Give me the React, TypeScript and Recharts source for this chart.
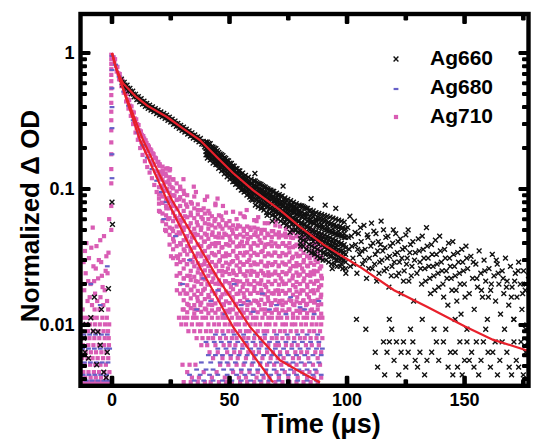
import React from 'react';
import { ScatterChart, Scatter, XAxis, YAxis, ReferenceDot } from 'recharts';

// axis ticks
const xTicks = [0, 25, 50, 75, 100, 125, 150, 175];
const xLabelTicks = [0, 50, 100, 150];
const yMajorTicks = [0.01, 0.1, 1];
const yMinorTicks = [
  0.004, 0.005, 0.006, 0.007, 0.008, 0.009,
  0.02, 0.03, 0.04, 0.05, 0.06, 0.07, 0.08, 0.09,
  0.2, 0.3, 0.4, 0.5, 0.6, 0.7, 0.8, 0.9,
];
const yLabels: Record<string, string> = { '0.01': '0.01', '0.1': '0.1', '1': '1' };

const seriesNames = ['Ag660', 'Ag680', 'Ag710'];

// Ag660 (black crosses)
const ag660Early = [
  [4, 0.642], [4.6, 0.582], [5.2, 0.609], [5.8, 0.553], [6.4, 0.579], [7, 0.526], [7.6, 0.55], [8.2, 0.5],
  [8.8, 0.523], [9.4, 0.475], [10, 0.497], [10.6, 0.455], [11.2, 0.478], [11.8, 0.437], [12.4, 0.461], [13, 0.421],
  [13.6, 0.443], [14.2, 0.405], [14.8, 0.426], [15.4, 0.391], [16, 0.413], [16.6, 0.38], [17.2, 0.402], [17.8, 0.37],
  [18.4, 0.39], [19, 0.359], [19.6, 0.38], [20.2, 0.349], [20.8, 0.369], [21.4, 0.34], [22, 0.359], [22.6, 0.33],
  [23.2, 0.349], [23.8, 0.32], [24.4, 0.337], [25, 0.31], [25.6, 0.326], [26.2, 0.299], [26.8, 0.316], [27.4, 0.289],
  [28, 0.304], [28.6, 0.279], [29.2, 0.294], [29.8, 0.27], [30.4, 0.285], [31, 0.262], [31.6, 0.275], [32.2, 0.253],
  [32.8, 0.267], [33.4, 0.245], [34, 0.259], [34.6, 0.237], [35.2, 0.25], [35.8, 0.23], [36.4, 0.242], [37, 0.222],
  [37.6, 0.235], [38.2, 0.214], [38.8, 0.224], [39.4, 0.204],
  [4.3, 0.61], [5.5, 0.58], [6.7, 0.552], [7.9, 0.525], [9.1, 0.498], [10.3, 0.475], [11.5, 0.457], [12.7, 0.44],
  [13.9, 0.424], [15.1, 0.408], [16.3, 0.396], [17.5, 0.385], [18.7, 0.375], [19.9, 0.364], [21.1, 0.354], [22.3, 0.345],
  [23.5, 0.334], [24.7, 0.323], [25.9, 0.312], [27.1, 0.302], [28.3, 0.291], [29.5, 0.282], [30.7, 0.273], [31.9, 0.264],
  [33.1, 0.256], [34.3, 0.248], [35.5, 0.24], [36.7, 0.232], [37.9, 0.224], [39.1, 0.213],
];

// band 40-100 us, as [x, values at that time]
const ag660Band: [number, number[]][] = [
  [40, [0.222, 0.208, 0.199, 0.188, 0.178]],
  [41.2, [0.216, 0.203, 0.195, 0.183, 0.172, 0.207]],
  [42.4, [0.205, 0.194, 0.186, 0.176, 0.166]],
  [43.6, [0.2, 0.19, 0.179, 0.171, 0.16, 0.184]],
  [44.8, [0.191, 0.181, 0.17, 0.161, 0.152]],
  [46, [0.181, 0.172, 0.163, 0.156, 0.145, 0.168]],
  [47.2, [0.176, 0.165, 0.157, 0.148, 0.139]],
  [48.4, [0.168, 0.158, 0.149, 0.141, 0.133, 0.153]],
  [49.6, [0.161, 0.15, 0.143, 0.135, 0.126]],
  [50.8, [0.154, 0.145, 0.137, 0.128, 0.121, 0.14]],
  [52, [0.147, 0.138, 0.129, 0.122, 0.114]],
  [53.2, [0.141, 0.131, 0.124, 0.117, 0.109, 0.127]],
  [54.4, [0.136, 0.127, 0.119, 0.111, 0.104]],
  [55.6, [0.131, 0.121, 0.114, 0.107, 0.099, 0.117]],
  [56.8, [0.126, 0.117, 0.109, 0.103, 0.096]],
  [58, [0.122, 0.113, 0.106, 0.099, 0.092, 0.109]],
  [59.2, [0.118, 0.11, 0.102, 0.096, 0.089, 0.084]],
  [60.4, [0.115, 0.106, 0.099, 0.093, 0.086, 0.103]],
  [61.6, [0.112, 0.104, 0.097, 0.09, 0.083]],
  [62.8, [0.109, 0.101, 0.094, 0.088, 0.081, 0.097]],
  [64, [0.106, 0.098, 0.091, 0.085, 0.078, 0.073]],
  [65.2, [0.103, 0.095, 0.088, 0.082, 0.076, 0.09]],
  [66.4, [0.1, 0.093, 0.086, 0.08, 0.074]],
  [67.6, [0.098, 0.091, 0.084, 0.078, 0.072, 0.087]],
  [68.8, [0.096, 0.088, 0.082, 0.076, 0.07, 0.065]],
  [70, [0.093, 0.086, 0.079, 0.074, 0.068, 0.082]],
  [71.2, [0.091, 0.084, 0.077, 0.071, 0.066]],
  [72.4, [0.089, 0.081, 0.075, 0.069, 0.064, 0.078]],
  [73.6, [0.086, 0.079, 0.073, 0.067, 0.062, 0.057]],
  [74.8, [0.084, 0.077, 0.071, 0.065, 0.06, 0.074]],
  [76, [0.082, 0.075, 0.069, 0.063, 0.058]],
  [77.2, [0.08, 0.073, 0.067, 0.061, 0.056, 0.07]],
  [78.4, [0.078, 0.071, 0.065, 0.06, 0.055, 0.05]],
  [79.6, [0.076, 0.069, 0.063, 0.058, 0.053, 0.066]],
  [80.8, [0.075, 0.068, 0.062, 0.056, 0.051, 0.046]],
  [82, [0.073, 0.066, 0.06, 0.055, 0.05, 0.063]],
  [83.2, [0.072, 0.065, 0.058, 0.053, 0.048, 0.044]],
  [84.4, [0.07, 0.063, 0.057, 0.052, 0.047, 0.06]],
  [85.6, [0.069, 0.062, 0.056, 0.05, 0.045, 0.041]],
  [86.8, [0.067, 0.06, 0.054, 0.049, 0.044, 0.058]],
  [88, [0.066, 0.059, 0.053, 0.048, 0.043, 0.039]],
  [89.2, [0.065, 0.058, 0.052, 0.047, 0.042, 0.055]],
  [90.4, [0.064, 0.057, 0.051, 0.046, 0.041, 0.037, 0.034]],
  [91.6, [0.063, 0.056, 0.05, 0.045, 0.04, 0.053, 0.036]],
  [92.8, [0.062, 0.055, 0.049, 0.044, 0.039, 0.035, 0.032]],
  [94, [0.061, 0.054, 0.048, 0.043, 0.038, 0.051, 0.034]],
  [95.2, [0.06, 0.053, 0.047, 0.042, 0.037, 0.033, 0.03]],
  [96.4, [0.059, 0.052, 0.046, 0.041, 0.036, 0.049, 0.032]],
  [97.6, [0.058, 0.051, 0.045, 0.04, 0.035, 0.031, 0.028]],
  [98.8, [0.057, 0.05, 0.044, 0.039, 0.034, 0.047, 0.03]],
  // in-between times
  [40.6, [0.221, 0.206, 0.19, 0.178, 0.169]],
  [41.8, [0.215, 0.2, 0.184, 0.173, 0.163]],
  [43, [0.203, 0.189, 0.175, 0.164, 0.155]],
  [44.2, [0.198, 0.184, 0.17, 0.159, 0.151]],
  [45.4, [0.186, 0.173, 0.16, 0.15, 0.142]],
  [46.6, [0.179, 0.166, 0.153, 0.144, 0.136]],
  [47.8, [0.17, 0.158, 0.146, 0.137, 0.129]],
  [49, [0.162, 0.15, 0.139, 0.13, 0.123]],
  [50.2, [0.155, 0.144, 0.133, 0.125, 0.118]],
  [51.4, [0.148, 0.138, 0.127, 0.119, 0.113]],
  [52.6, [0.141, 0.131, 0.121, 0.114, 0.108]],
  [53.8, [0.136, 0.126, 0.116, 0.109, 0.103]],
  [55, [0.129, 0.12, 0.111, 0.104, 0.098]],
  [56.2, [0.124, 0.116, 0.107, 0.1, 0.095]],
  [57.4, [0.119, 0.11, 0.102, 0.096, 0.09]],
  [58.6, [0.114, 0.106, 0.098, 0.092, 0.087]],
  [59.8, [0.11, 0.102, 0.094, 0.088, 0.083]],
  [61, [0.114, 0.103, 0.092, 0.084, 0.076]],
  [62.2, [0.11, 0.099, 0.089, 0.081, 0.074]],
  [63.4, [0.108, 0.097, 0.087, 0.079, 0.072]],
  [64.6, [0.104, 0.094, 0.084, 0.077, 0.07]],
  [65.8, [0.101, 0.091, 0.081, 0.074, 0.067]],
  [67, [0.098, 0.089, 0.08, 0.072, 0.066]],
  [68.2, [0.096, 0.086, 0.078, 0.07, 0.064]],
  [69.4, [0.092, 0.083, 0.075, 0.068, 0.062]],
  [70.6, [0.09, 0.081, 0.073, 0.066, 0.06]],
  [71.8, [0.088, 0.079, 0.071, 0.064, 0.058]],
  [73, [0.084, 0.076, 0.068, 0.062, 0.056]],
  [74.2, [0.082, 0.073, 0.066, 0.06, 0.054]],
  [75.4, [0.079, 0.071, 0.064, 0.058, 0.053]],
  [76.6, [0.076, 0.068, 0.061, 0.055, 0.05]],
  [77.8, [0.074, 0.067, 0.06, 0.055, 0.05]],
  [79, [0.072, 0.065, 0.058, 0.053, 0.048]],
  [80.2, [0.075, 0.065, 0.056, 0.049, 0.043, 0.038]],
  [81.4, [0.074, 0.064, 0.055, 0.048, 0.042, 0.038]],
  [82.6, [0.072, 0.062, 0.053, 0.047, 0.041, 0.036]],
  [83.8, [0.069, 0.059, 0.051, 0.045, 0.039, 0.035]],
  [85, [0.066, 0.057, 0.049, 0.043, 0.038, 0.034]],
  [86.2, [0.065, 0.056, 0.048, 0.043, 0.037, 0.033]],
  [87.4, [0.062, 0.054, 0.046, 0.041, 0.036, 0.032]],
  [88.6, [0.061, 0.053, 0.045, 0.04, 0.035, 0.031]],
  [89.8, [0.06, 0.052, 0.044, 0.039, 0.034, 0.03]],
  [91, [0.059, 0.05, 0.043, 0.038, 0.033, 0.03]],
  [92.2, [0.057, 0.049, 0.042, 0.037, 0.033, 0.029]],
  [93.4, [0.056, 0.048, 0.041, 0.037, 0.032, 0.028]],
  [94.6, [0.055, 0.047, 0.04, 0.036, 0.031, 0.028]],
  [95.8, [0.053, 0.046, 0.039, 0.035, 0.03, 0.027]],
  [97, [0.053, 0.046, 0.039, 0.035, 0.03, 0.027]],
  [98.2, [0.052, 0.045, 0.038, 0.034, 0.03, 0.026]],
  [99.4, [0.051, 0.044, 0.037, 0.033, 0.029, 0.026]],
];
const ag660Stray = [
  [60.8, 0.13], [72.8, 0.105], [84.7, 0.085], [90.7, 0.076], [95.2, 0.072], [68.2, 0.058], [80.2, 0.04],
  [88.3, 0.031], [93.7, 0.026], [75.8, 0.048], [66, 0.064], [99.5, 0.024], [86, 0.034],
];

const ag660Tail = [
  [100.3, 0.052], [100.9, 0.036], [101.4, 0.027], [101.8, 0.045], [102.5, 0.031], [103.1, 0.058], [103.6, 0.039], [104.2, 0.024],
  [104.8, 0.047], [105.3, 0.033], [106, 0.041], [106.6, 0.028], [107.2, 0.054], [107.7, 0.036], [108.3, 0.022], [108.9, 0.044],
  [109.5, 0.031], [110.1, 0.038], [110.7, 0.026], [111.4, 0.049], [112, 0.033], [112.6, 0.021], [113.3, 0.041], [113.9, 0.029],
  [114.5, 0.058], [115.2, 0.035], [115.8, 0.025], [116.5, 0.044], [117.1, 0.031], [117.8, 0.019], [118.4, 0.038], [119.1, 0.027],
  [119.7, 0.05], [120.4, 0.033], [121, 0.023], [121.7, 0.041], [122.3, 0.029], [123, 0.017], [123.6, 0.036], [124.3, 0.025],
  [125, 0.046], [125.6, 0.031], [126.3, 0.021], [127, 0.039], [127.6, 0.027], [128.3, 0.015], [129, 0.034], [129.7, 0.024],
  [130.3, 0.043], [131, 0.029], [131.7, 0.02], [132.4, 0.036], [133.1, 0.026], [133.8, 0.052], [134.5, 0.031], [135.2, 0.022],
  [135.9, 0.039], [136.6, 0.027], [137.3, 0.018], [138, 0.033], [138.7, 0.024], [139.4, 0.045], [140.1, 0.029], [140.8, 0.02],
  [141.5, 0.036], [142.2, 0.025], [142.9, 0.014], [143.6, 0.031], [144.3, 0.022], [145, 0.041], [145.7, 0.027], [146.4, 0.018],
  [147.1, 0.034], [147.8, 0.024], [148.5, 0.012], [149.2, 0.029], [149.9, 0.02], [150.6, 0.038], [151.3, 0.026], [152, 0.017],
  [152.7, 0.032], [153.4, 0.022], [154.1, 0.013], [154.8, 0.028], [155.5, 0.019], [156.2, 0.035], [156.9, 0.024], [157.6, 0.016],
  [158.3, 0.03], [159, 0.021], [159.7, 0.011], [160.4, 0.026], [161.1, 0.018], [161.8, 0.033], [162.5, 0.023], [163.2, 0.015],
  [163.9, 0.028], [164.6, 0.02], [165.3, 0.012], [166, 0.025], [166.7, 0.017], [167.4, 0.031], [168.1, 0.021], [168.8, 0.014],
  [169.5, 0.027], [170.2, 0.019], [170.9, 0.011], [171.6, 0.024], [172.3, 0.016], [173, 0.029], [173.7, 0.02], [174.4, 0.013],
  [175.1, 0.025], [175.8, 0.018], [176.5, 0.01], [177.2, 0.023], [177.9, 0.015], [178.6, 0.027], [179.3, 0.019],
  [100.6, 0.044], [101.2, 0.063], [102, 0.038], [102.8, 0.028], [103.4, 0.048], [104.5, 0.036], [105.7, 0.052], [106.3, 0.035],
  [107.5, 0.03], [108.6, 0.046], [109.2, 0.026], [110.4, 0.056], [111, 0.04], [111.7, 0.028], [112.3, 0.047], [113, 0.035],
  [113.6, 0.024], [114.2, 0.039], [114.8, 0.03], [115.5, 0.05], [116.1, 0.037], [116.8, 0.026], [117.4, 0.045], [118.1, 0.032],
  [118.8, 0.023], [119.4, 0.04], [120.1, 0.029], [120.7, 0.047], [121.4, 0.034], [122, 0.024], [122.7, 0.043], [123.3, 0.031],
  [124, 0.021], [124.6, 0.037], [125.3, 0.028], [126, 0.05], [126.7, 0.034], [127.3, 0.023], [128, 0.041], [128.7, 0.03],
  [130.7, 0.035], [131.3, 0.026], [132, 0.045], [132.7, 0.031], [133.4, 0.021], [134.1, 0.038], [134.8, 0.027], [135.5, 0.017],
  [136.2, 0.033], [136.9, 0.023], [137.6, 0.042], [138.3, 0.028], [139, 0.019], [139.7, 0.035], [140.4, 0.025], [141.1, 0.016],
  [141.8, 0.031], [142.5, 0.022], [143.2, 0.04], [143.9, 0.027], [144.6, 0.018], [145.3, 0.033], [146, 0.023], [146.7, 0.015],
  [147.4, 0.029], [148.1, 0.02], [148.8, 0.036], [149.5, 0.025], [150.2, 0.016], [150.9, 0.031], [155.2, 0.022], [158.6, 0.025],
  [161.4, 0.02], [164.3, 0.024], [167.8, 0.019], [171.3, 0.021], [174.7, 0.017], [178.1, 0.022], [153.7, 0.029], [157.2, 0.018],
  [160.1, 0.016], [163.5, 0.03], [166.4, 0.022], [169.9, 0.016], [172.8, 0.025], [176.2, 0.02], [179, 0.013],
];

const ag660PreTrigger = [
  [-11, 0.0101], [-8, 0.009], [-5, 0.0071], [-2, 0.0063], [-10, 0.0057], [-6.5, 0.0051], [-3.5, 0.0045], [-12, 0.008],
  [-9, 0.0113], [-4.5, 0.013], [-1.5, 0.0185], [-7.5, 0.016], [-2.5, 0.0041], [-11.5, 0.0063], [-6, 0.0089], [0, 0.08], [0.2, 0.055],
];

// quantised low-level rows: [level, x positions]
const ag660Rows: [number, number[]][] = [
  [0.011, [104, 118, 132, 146, 171]],
  [0.0093, [108, 119, 127, 137, 142, 151, 159, 167, 176]],
  [0.0075, [115.5, 118, 121, 124, 128, 138, 141, 148, 151, 155, 158, 163, 166, 171, 174, 177]],
  [0.0063, [112, 117, 123, 126, 131, 136, 144, 146, 153, 160, 162, 168, 176, 179]],
  [0.0055, [120, 129, 134, 139, 150, 152, 157, 165, 172, 178]],
  [0.0049, [113, 125, 130, 143, 147, 154, 161, 169, 173]],
  [0.0043, [116, 122, 133, 145, 149, 156, 164, 170, 175]],
];

// Ag680 (blue)
const ag680Decay = [
  [0, 0.95], [0, 0.75], [0, 0.55], [0, 0.4], [0, 0.28], [0, 0.18], [0, 0.12], [1.5, 0.82], [3, 0.67], [5, 0.52],
  [7, 0.41], [9, 0.32], [11, 0.26], [13, 0.21], [15, 0.17], [17, 0.14], [19, 0.115], [21, 0.095], [23, 0.08],
];
const ag680Cloud = [
  [22, 0.06], [27, 0.045], [33, 0.03], [39, 0.022], [45, 0.018], [52, 0.02], [58, 0.015], [64, 0.017], [70, 0.014],
  [76, 0.016], [82, 0.013], [88, 0.015], [36, 0.013], [48, 0.012], [60, 0.0125], [74, 0.012], [86, 0.012], [30, 0.02],
  [42, 0.015], [55, 0.014], [67, 0.013], [80, 0.0135], [-9, 0.02], [-5, 0.014], [-2, 0.027],
];
const ag680Rows: [number, number[]][] = [
  [0.0085, [-12, -9.5, -7, -4.5, -2, 44, 47.5, 52, 56, 61, 65, 70, 74.5, 79, 83, 87.5]],
  [0.0075, [40, 43.5, 46.5, 50, 53.5, 57, 60, 63.5, 67, 70.5, 74, 77.5, 81, 84.5, 88]],
  [0.0067, [-12.5, -10, -7.5, -5, -2.5, -1, 45, 48.5, 52, 55.5, 59, 62.5, 66, 69.5, 73, 76.5, 80, 83.5, 87, 89.5]],
  [0.006, [41, 44, 47, 50.5, 54, 57.5, 61, 64.5, 68, 71.5, 75, 78.5, 82, 85.5, 89]],
  [0.0053, [-11.7, -9.2, -6.7, -4.2, -1.7, 38, 42, 46, 49, 52.5, 56.5, 60, 63, 67, 70, 74, 77, 80.5, 84, 88]],
  [0.0047, [36, 40, 43, 47.5, 51, 55, 58.5, 62, 65.5, 69, 72.5, 76, 79.5, 83, 86.5]],
  [0.0043, [-12.3, -9.8, -7.3, -4.8, -2.3, 33, 37.5, 41.5, 45, 49, 53, 56.5, 60, 64, 67.5, 71, 75, 78.5, 82, 85.5, 89]],
  [0.0039, [-11, -8.5, -6, -3.5, -1.5, 35, 39, 43, 47, 51, 55, 59, 63, 67, 71, 75, 79, 83, 87]],
];

// Ag710 (pink squares)
const ag710Rise = [
  [-0.3, 0.97], [-0.3, 0.9], [-0.3, 0.83], [-0.3, 0.76], [-0.3, 0.69], [-0.3, 0.62], [-0.3, 0.55], [-0.3, 0.49],
  [-0.3, 0.43], [-0.3, 0.37], [-0.3, 0.32], [-0.3, 0.27], [-0.3, 0.22], [-0.3, 0.18], [-0.3, 0.14], [-0.3, 0.11],
  [-0.3, 0.075], [-0.3, 0.05],
];
const ag710Decay = [
  [0.7, 0.93], [1, 0.84], [1.3, 0.9], [1.7, 0.8], [2, 0.73], [2.3, 0.79], [2.7, 0.71], [3, 0.64], [3.3, 0.7],
  [3.7, 0.64], [4, 0.57], [4.3, 0.63], [4.7, 0.58], [5, 0.51], [5.3, 0.57], [5.7, 0.51], [6, 0.44], [6.3, 0.5],
  [6.7, 0.455], [7, 0.39], [7.3, 0.45], [7.7, 0.41], [8, 0.345], [8.3, 0.405], [8.7, 0.37], [9, 0.3], [9.3, 0.365],
  [9.7, 0.33], [10, 0.26], [10.3, 0.325], [10.7, 0.3], [11, 0.23], [11.3, 0.295], [11.7, 0.27], [12, 0.2], [12.3, 0.265],
  [12.7, 0.25], [13, 0.178], [13.3, 0.245], [13.7, 0.235], [14, 0.16], [14.3, 0.228], [14.7, 0.218], [15, 0.145],
  [15.3, 0.21], [15.7, 0.205], [16, 0.132], [16.3, 0.196], [16.7, 0.192], [17, 0.12], [17.3, 0.183], [17.7, 0.18],
  [18, 0.107], [18.3, 0.17], [18.7, 0.168], [19, 0.095], [19.3, 0.158], [19.7, 0.158], [20, 0.085], [20.3, 0.148],
  [9.5, 0.31], [11.5, 0.245], [13.5, 0.205], [15.5, 0.175], [17.5, 0.15], [19.5, 0.125], [7.5, 0.4], [5.5, 0.53],
  [3.5, 0.66], [10.5, 0.28], [12.5, 0.22], [14.5, 0.19], [16.5, 0.16], [18.5, 0.135],
];
const ag710Scatter = [
  [20.4, 0.068], [21.3, 0.079], [20.6, 0.092], [21.8, 0.106], [20.9, 0.12], [21.6, 0.136], [20.3, 0.152],
  [22.6, 0.05], [23.8, 0.06], [23.1, 0.072], [24.3, 0.086], [23.4, 0.1], [24.1, 0.115], [22.8, 0.13], [23.6, 0.142],
  [25.1, 0.032], [26.3, 0.041], [25.6, 0.051], [26.8, 0.063], [25.9, 0.075], [26.6, 0.089], [25.3, 0.103], [26.1, 0.118],
  [27.6, 0.018], [28.8, 0.024], [28.1, 0.031], [29.3, 0.039], [28.4, 0.048], [29.1, 0.059], [27.8, 0.071], [28.6, 0.084], [29, 0.1],
  [30.1, 0.013], [31.3, 0.017], [30.6, 0.022], [31.8, 0.028], [30.9, 0.035], [31.6, 0.043], [30.3, 0.052], [31.1, 0.063], [31.5, 0.077], [30.7, 0.092],
  [32.6, 0.014], [33.8, 0.018], [33.1, 0.023], [34.3, 0.029], [33.4, 0.036], [34.1, 0.044], [32.8, 0.053], [33.6, 0.064], [34, 0.078],
  [35.1, 0.013], [36.3, 0.016], [35.6, 0.021], [36.8, 0.026], [35.9, 0.032], [36.6, 0.039], [35.3, 0.047], [36.1, 0.057], [36.5, 0.07], [35.7, 0.095],
  [37.6, 0.014], [38.8, 0.018], [38.1, 0.022], [39.3, 0.028], [38.4, 0.034], [39.1, 0.041], [37.8, 0.05], [38.6, 0.06], [39, 0.072],
  [40.1, 0.013], [41.3, 0.016], [40.6, 0.02], [41.8, 0.025], [40.9, 0.031], [41.6, 0.038], [40.3, 0.046], [41.1, 0.055], [41.5, 0.066],
  [42.6, 0.014], [43.8, 0.017], [43.1, 0.022], [44.3, 0.027], [43.4, 0.033], [44.1, 0.04], [42.8, 0.048], [43.6, 0.058], [44, 0.078],
  [45.1, 0.013], [46.3, 0.016], [45.6, 0.02], [46.8, 0.025], [45.9, 0.03], [46.6, 0.037], [45.3, 0.044], [46.1, 0.053], [46.5, 0.063],
  [47.6, 0.014], [48.8, 0.017], [48.1, 0.021], [49.3, 0.026], [48.4, 0.032], [49.1, 0.039], [47.8, 0.047], [48.6, 0.056],
  [50.1, 0.013], [51.3, 0.016], [50.6, 0.019], [51.8, 0.024], [50.9, 0.029], [51.6, 0.035], [50.3, 0.042], [51.1, 0.05], [51.5, 0.068],
  [52.6, 0.014], [53.8, 0.017], [53.1, 0.021], [54.3, 0.026], [53.4, 0.031], [54.1, 0.038], [52.8, 0.045], [53.6, 0.054],
  [55.1, 0.013], [56.3, 0.016], [55.6, 0.019], [56.8, 0.023], [55.9, 0.028], [56.6, 0.034], [55.3, 0.041], [56.1, 0.049], [56.5, 0.062],
  [57.6, 0.014], [58.8, 0.017], [58.1, 0.02], [59.3, 0.025], [58.4, 0.03], [59.1, 0.036], [57.8, 0.043], [58.6, 0.052],
  [60.1, 0.013], [61.3, 0.015], [60.6, 0.019], [61.8, 0.023], [60.9, 0.028], [61.6, 0.033], [60.3, 0.04], [61.1, 0.048], [61.5, 0.058],
  [62.6, 0.014], [63.8, 0.017], [63.1, 0.02], [64.3, 0.024], [63.4, 0.029], [64.1, 0.035], [62.8, 0.042], [63.6, 0.05],
  [65.1, 0.013], [66.3, 0.016], [65.6, 0.019], [66.8, 0.023], [65.9, 0.027], [66.6, 0.033], [65.3, 0.039], [66.1, 0.047], [66.5, 0.056],
  [67.6, 0.014], [68.8, 0.017], [68.1, 0.02], [69.3, 0.024], [68.4, 0.028], [69.1, 0.034], [67.8, 0.041], [68.6, 0.049],
  [70.1, 0.013], [71.3, 0.015], [70.6, 0.018], [71.8, 0.022], [70.9, 0.027], [71.6, 0.032], [70.3, 0.038], [71.1, 0.045], [71.5, 0.053],
  [72.6, 0.014], [73.8, 0.017], [73.1, 0.02], [74.3, 0.024], [73.4, 0.028], [74.1, 0.033], [72.8, 0.04], [73.6, 0.047],
  [75.1, 0.013], [76.3, 0.015], [75.6, 0.018], [76.8, 0.022], [75.9, 0.026], [76.6, 0.031], [75.3, 0.037], [76.1, 0.044], [76.5, 0.05],
  [77.6, 0.014], [78.8, 0.016], [78.1, 0.019], [79.3, 0.023], [78.4, 0.027], [79.1, 0.032], [77.8, 0.038], [78.6, 0.045],
  [80.1, 0.013], [81.3, 0.015], [80.6, 0.018], [81.8, 0.022], [80.9, 0.026], [81.6, 0.03], [80.3, 0.036], [81.1, 0.042], [81.5, 0.047],
  [82.6, 0.014], [83.8, 0.016], [83.1, 0.019], [84.3, 0.023], [83.4, 0.027], [84.1, 0.031], [82.8, 0.037], [83.6, 0.043],
  [85.1, 0.013], [86.3, 0.015], [85.6, 0.018], [86.8, 0.021], [85.9, 0.025], [86.6, 0.03], [85.3, 0.035], [86.1, 0.041], [86.5, 0.045],
  [87.6, 0.014], [88.8, 0.016], [88.1, 0.019], [89.3, 0.022], [88.4, 0.026], [89.1, 0.031], [87.8, 0.036], [88.6, 0.042],
  [40.5, 0.088], [47.2, 0.075], [54.6, 0.066], [62.2, 0.062], [69.7, 0.058], [77.2, 0.055], [84.8, 0.05], [44.9, 0.085],
  [57.3, 0.07], [30.4, 0.118], [34.8, 0.104], [24.7, 0.14],
];
// dense part of the cloud, as [x, values at that time]
const ag710Cloud: [number, number[]][] = [
  [20, [0.069, 0.078, 0.091, 0.103, 0.119, 0.134, 0.151]],
  [21.5, [0.058, 0.066, 0.079, 0.088, 0.101, 0.117, 0.129, 0.146]],
  [23, [0.049, 0.055, 0.064, 0.075, 0.084, 0.097, 0.112, 0.125, 0.141]],
  [24.5, [0.039, 0.046, 0.052, 0.061, 0.072, 0.081, 0.094, 0.108, 0.122, 0.137]],
  [26, [0.031, 0.036, 0.043, 0.049, 0.058, 0.067, 0.078, 0.09, 0.101, 0.117]],
  [27.5, [0.023, 0.028, 0.032, 0.038, 0.046, 0.053, 0.061, 0.072, 0.083, 0.096, 0.11]],
  [29, [0.017, 0.02, 0.024, 0.029, 0.033, 0.04, 0.047, 0.055, 0.064, 0.075, 0.087, 0.104]],
  [30.5, [0.013, 0.0152, 0.018, 0.022, 0.026, 0.03, 0.036, 0.042, 0.05, 0.058, 0.069, 0.082, 0.097]],
  [32, [0.0124, 0.0143, 0.017, 0.0196, 0.023, 0.028, 0.033, 0.038, 0.045, 0.053, 0.062, 0.074, 0.09]],
  [33.5, [0.0133, 0.0157, 0.0182, 0.0214, 0.025, 0.03, 0.035, 0.041, 0.048, 0.056, 0.067, 0.08]],
  [35, [0.0121, 0.014, 0.0167, 0.0192, 0.0226, 0.027, 0.0315, 0.037, 0.044, 0.051, 0.061, 0.072, 0.088]],
  [36.5, [0.0129, 0.015, 0.0178, 0.0208, 0.0243, 0.0284, 0.0335, 0.039, 0.046, 0.054, 0.065, 0.077]],
  [38, [0.0125, 0.0146, 0.0169, 0.02, 0.0236, 0.0275, 0.032, 0.038, 0.044, 0.052, 0.062, 0.07]],
  [39.5, [0.0132, 0.0155, 0.0185, 0.0216, 0.0252, 0.0296, 0.035, 0.041, 0.047, 0.056, 0.066, 0.083]],
  [41, [0.0122, 0.0141, 0.0166, 0.0198, 0.023, 0.0271, 0.0318, 0.0372, 0.043, 0.051, 0.06, 0.069]],
  [42.5, [0.0128, 0.0152, 0.0177, 0.0207, 0.0244, 0.029, 0.0338, 0.0395, 0.046, 0.054, 0.063]],
  [44, [0.0123, 0.0144, 0.0171, 0.0201, 0.0235, 0.0277, 0.0325, 0.038, 0.0445, 0.052, 0.06, 0.076]],
  [45.5, [0.0131, 0.0153, 0.0181, 0.0213, 0.0249, 0.0292, 0.0344, 0.04, 0.047, 0.055, 0.064]],
  [47, [0.0121, 0.0142, 0.0168, 0.0196, 0.0232, 0.0272, 0.032, 0.0374, 0.044, 0.051, 0.059]],
  [48.5, [0.0127, 0.0149, 0.0176, 0.0209, 0.0245, 0.0287, 0.0336, 0.0393, 0.046, 0.054, 0.067]],
  [50, [0.0124, 0.0145, 0.0172, 0.0203, 0.0237, 0.0279, 0.0327, 0.0383, 0.0448, 0.052, 0.058]],
  [51.5, [0.013, 0.0154, 0.0183, 0.0214, 0.0251, 0.0295, 0.0347, 0.0405, 0.047, 0.054]],
  [53, [0.0121, 0.0143, 0.0169, 0.0198, 0.0233, 0.0274, 0.0322, 0.0377, 0.044, 0.051, 0.06]],
  [54.5, [0.0128, 0.015, 0.0178, 0.0209, 0.0246, 0.0289, 0.0338, 0.0396, 0.0462, 0.053]],
  [56, [0.0123, 0.0145, 0.0171, 0.02, 0.0236, 0.0277, 0.0325, 0.038, 0.0446, 0.051, 0.063]],
  [57.5, [0.0129, 0.0152, 0.018, 0.0212, 0.0248, 0.0291, 0.0342, 0.04, 0.0466, 0.053]],
  [59, [0.0122, 0.0144, 0.017, 0.0199, 0.0234, 0.0275, 0.0323, 0.0378, 0.0442, 0.05]],
  [60.5, [0.0128, 0.0151, 0.0178, 0.021, 0.0246, 0.0288, 0.0339, 0.0396, 0.046, 0.052, 0.059]],
  [62, [0.0124, 0.0146, 0.0172, 0.0202, 0.0238, 0.0279, 0.0327, 0.0384, 0.0448, 0.051]],
  [63.5, [0.013, 0.0153, 0.0181, 0.0213, 0.025, 0.0293, 0.0344, 0.0402, 0.047]],
  [65, [0.0121, 0.0143, 0.0168, 0.0197, 0.0232, 0.0273, 0.032, 0.0375, 0.0438, 0.05, 0.056]],
  [66.5, [0.0127, 0.015, 0.0177, 0.0208, 0.0244, 0.0286, 0.0336, 0.0393, 0.0458]],
  [68, [0.0123, 0.0145, 0.0171, 0.02, 0.0235, 0.0276, 0.0324, 0.038, 0.0444, 0.049]],
  [69.5, [0.0129, 0.0152, 0.0179, 0.0211, 0.0247, 0.029, 0.034, 0.0398, 0.0463, 0.054]],
  [71, [0.0122, 0.0144, 0.0169, 0.0198, 0.0233, 0.0274, 0.0321, 0.0377, 0.044, 0.048]],
  [72.5, [0.0128, 0.0151, 0.0178, 0.0209, 0.0245, 0.0288, 0.0338, 0.0395, 0.0455]],
  [74, [0.0124, 0.0146, 0.0172, 0.0201, 0.0236, 0.0278, 0.0326, 0.0382, 0.0443, 0.051]],
  [75.5, [0.013, 0.0153, 0.018, 0.0212, 0.0249, 0.0292, 0.0342, 0.04, 0.046]],
  [77, [0.0121, 0.0142, 0.0167, 0.0196, 0.0231, 0.0271, 0.0318, 0.0373, 0.0436, 0.048]],
  [78.5, [0.0127, 0.0149, 0.0176, 0.0207, 0.0243, 0.0285, 0.0334, 0.039, 0.045]],
  [80, [0.0123, 0.0145, 0.017, 0.02, 0.0235, 0.0276, 0.0323, 0.0378, 0.0438, 0.049]],
  [81.5, [0.0129, 0.0152, 0.0179, 0.021, 0.0247, 0.0289, 0.0339, 0.0396, 0.045]],
  [83, [0.0122, 0.0143, 0.0168, 0.0198, 0.0233, 0.0273, 0.032, 0.0375, 0.0432, 0.047]],
  [84.5, [0.0128, 0.015, 0.0177, 0.0208, 0.0244, 0.0286, 0.0335, 0.0392, 0.0445]],
  [86, [0.0124, 0.0146, 0.0171, 0.0201, 0.0236, 0.0277, 0.0324, 0.038, 0.0436, 0.046]],
  [87.5, [0.013, 0.0153, 0.018, 0.0211, 0.0248, 0.029, 0.034, 0.0397, 0.0448]],
  [89, [0.0121, 0.0142, 0.0167, 0.0196, 0.023, 0.027, 0.0317, 0.0371, 0.043, 0.046]],
];
const ag710PreTrigger = [
  [-12.5, 0.013], [-11.8, 0.018], [-11.2, 0.024], [-10.4, 0.015], [-9.8, 0.031], [-9.1, 0.02], [-8.5, 0.014], [-7.9, 0.027],
  [-7.2, 0.017], [-6.6, 0.038], [-5.9, 0.022], [-5.3, 0.013], [-4.6, 0.029], [-4, 0.019], [-3.4, 0.045], [-2.7, 0.025],
  [-2.1, 0.015], [-1.5, 0.034], [-12.1, 0.029], [-10.9, 0.04], [-9.5, 0.016], [-8.2, 0.052], [-7.6, 0.021], [-6.3, 0.015],
  [-5.6, 0.03], [-4.3, 0.023], [-3.1, 0.018], [-1.9, 0.024], [-1.2, 0.06], [-11.5, 0.035], [-8.8, 0.037], [-6.9, 0.026],
  [-5, 0.042], [-3.7, 0.014], [-2.4, 0.032], [-10.1, 0.021], [-7.4, 0.013], [-12.8, 0.02], [-4.9, 0.016], [-1.6, 0.013],
];
const ag710Rows: [number, number[]][] = [
  [0.0113, [-12.3, -10.6, -8.2, -6.5, -4.1, -2.2, 28.5, 30.5, 32, 34.5, 36, 38.5, 40, 42.5, 45, 47, 48.5, 51, 53.5, 55, 57.5, 60, 61.5, 64, 66.5, 68, 70.5, 72, 74.5, 77, 79, 81.5, 83, 85.5, 88, 89.5]],
  [0.0101, [-11.5, -9.4, -7.3, -5.2, -3, -1.2, 29.5, 31.5, 34, 36.5, 38, 41, 43.5, 45.5, 48, 50, 52.5, 54, 56.5, 59, 61, 63, 65.5, 67, 69.5, 72.5, 74, 76.5, 78, 80.5, 82.5, 85, 87, 89]],
  [0.009, [-12.6, -10.2, -8, -5.8, -3.6, -1.7, 32.5, 35, 37.5, 40, 42, 44.5, 47, 49.5, 51.5, 54.5, 57, 58.5, 62, 64.5, 66, 69, 71.5, 73.5, 76, 78.5, 81, 84, 86, 88.5]],
  [0.008, [-11.8, -9.6, -7.5, -5.4, -3.1, -1.4, 36, 38.5, 41, 43, 46, 48.5, 51, 53, 56, 58, 60.5, 63, 65, 68, 70, 72.5, 75, 77.5, 80, 82, 84.5, 87, 89.5]],
  [0.0071, [-12.4, -10.1, -7.9, -5.6, -3.4, -1.3, 38, 40.5, 44, 47.5, 50, 52.5, 55.5, 57.5, 61, 63.5, 66.5, 69.5, 71, 74, 76.5, 79, 82.5, 85, 88]],
  [0.0063, [-11.2, -9, -6.8, -4.5, -2.4, 41.5, 45, 49, 52, 54.5, 58, 60, 62.5, 66, 68.5, 71.5, 74.5, 78, 80.5, 83, 86.5, 89]],
  [0.0057, [-12.7, -10.4, -8.3, -6.1, -3.8, -1.6, 43, 47, 50.5, 53.5, 57, 60.5, 64, 67.5, 70.5, 73, 77, 79.5, 83.5, 87.5]],
  [0.0051, [-11.6, -9.3, -7.1, -4.9, -2.6, 30, 33, 35.5, 46, 49.5, 53, 56, 59.5, 63, 66, 69, 72, 75.5, 78.5, 82, 85.5, 88.5]],
  [0.0045, [-12.2, -10, -7.7, -5.5, -3.3, -1.1, 32, 39, 44.5, 51.5, 55, 58.5, 62, 65.5, 70, 73.5, 77.5, 81, 84, 87]],
  [0.0041, [-11.4, -9.1, -6.9, -4.7, -2.5, 34, 37, 42.5, 48, 54, 57, 61.5, 64.5, 67, 71, 75, 79, 83, 86, 89]],
  [0.0038, [-12.8, -11.3, -9.8, -8.3, -6.8, -5.3, -3.8, -2.3, -1, 30.5, 33.5, 36.5, 39.5, 42, 45.5, 48.5, 51, 54.5, 57.5, 60.5, 63.5, 66.5, 69.5, 72.5, 75.5, 78.5, 81.5, 84.5, 87.5]],
];

// fitted decay curves (red)
const fit660 = [
  [0, 1], [2, 0.75], [4.7, 0.6], [10, 0.48], [15, 0.41], [23.4, 0.338], [30, 0.28], [37.4, 0.229], [45, 0.169],
  [51.5, 0.131], [60, 0.098], [71.5, 0.07], [80, 0.0526], [90, 0.039], [105.5, 0.0267], [120, 0.018], [134, 0.0136],
  [150, 0.0098], [162, 0.0078], [179, 0.0063],
];
const fit680 = [
  [0, 1], [1.5, 0.8], [3.4, 0.633], [6, 0.482], [8.5, 0.372], [11, 0.287], [13.2, 0.229], [16, 0.182], [20, 0.13],
  [25.5, 0.083], [32, 0.0534], [38, 0.0355], [44.7, 0.0225], [51, 0.0154], [58.7, 0.00967], [65, 0.0073], [71.5, 0.0055],
  [80, 0.00453], [88.5, 0.00378],
];
const fit710 = [
  [0, 1], [1.5, 0.8], [3.4, 0.633], [6, 0.463], [8, 0.365], [10, 0.287], [11.9, 0.229], [14, 0.19], [18, 0.133],
  [23.4, 0.083], [30, 0.0487], [37.4, 0.0267], [44, 0.0166], [51.5, 0.00967], [60, 0.006], [68.5, 0.00378],
];

const X_DOMAIN: [number, number] = [-13.4, 177.2];
const Y_DOMAIN: [number, number] = [0.00357, 1.935];
const Y_TICKS = [...yMinorTicks, ...yMajorTicks];

const toPts = (arr: number[][]) => arr.map(([x, y]) => ({ x, y }));
const colPts = (cols: [number, number[]][]) => cols.flatMap(([x, ys]) => ys.map((y) => ({ x, y })));
const rowPts = (rows: [number, number[]][]) => rows.flatMap(([y, xs]) => xs.map((x) => ({ x, y })));

const black660 = [
  ...toPts(ag660PreTrigger), ...toPts(ag660Early), ...colPts(ag660Band), ...toPts(ag660Stray),
  ...toPts(ag660Tail), ...rowPts(ag660Rows),
];
const blue680 = [...toPts(ag680Decay), ...toPts(ag680Cloud), ...rowPts(ag680Rows)];
const pink710 = [
  ...toPts(ag710Rise), ...toPts(ag710Decay), ...colPts(ag710Cloud), ...toPts(ag710Scatter),
  ...toPts(ag710PreTrigger), ...rowPts(ag710Rows),
];

// inward tick marks on all four sides of the frame, placed through the chart scales
type Mark = { x: number; y: number; side: 'b' | 't' | 'l' | 'r'; major: boolean };
const frameMarks: Mark[] = [
  ...xTicks.map((x) => ({ x, y: Y_DOMAIN[0], side: 'b' as const, major: xLabelTicks.includes(x) })),
  ...xTicks.map((x) => ({ x, y: Y_DOMAIN[1], side: 't' as const, major: xLabelTicks.includes(x) })),
  ...Y_TICKS.map((y) => ({ x: X_DOMAIN[0], y, side: 'l' as const, major: yMajorTicks.includes(y) })),
  ...Y_TICKS.map((y) => ({ x: X_DOMAIN[1], y, side: 'r' as const, major: yMajorTicks.includes(y) })),
];

const FONT = "'Liberation Sans', Arial, sans-serif";
const PINK = '#d95cb4';
const BLUE = '#6660c8';
const RED = '#e8202b';

const Cross = (p: any) => {
  const { cx, cy } = p;
  if (cx == null || cy == null) return <g />;
  return (
    <path
      d={`M${cx - 2.4} ${cy - 2.4}L${cx + 2.4} ${cy + 2.4}M${cx - 2.4} ${cy + 2.4}L${cx + 2.4} ${cy - 2.4}`}
      stroke="#111"
      strokeWidth={1.4}
    />
  );
};
const Square = (p: any) => {
  if (p.cx == null) return <g />;
  return <rect x={p.cx - 2.1} y={p.cy - 2.1} width={4.2} height={4.2} fill={PINK} />;
};
const Dash = (p: any) => {
  if (p.cx == null) return <g />;
  return <rect x={p.cx - 2.4} y={p.cy - 1.1} width={4.8} height={2.2} fill={BLUE} />;
};
const NoDot = () => <g />;

const markShape = (m: Mark) => (p: any) => {
  const { cx, cy } = p;
  if (cx == null || cy == null) return <g />;
  const len = m.major ? 10 : 6.5;
  const horizontal = m.side === 'l' || m.side === 'r';
  const w = horizontal ? len : 4.6;
  const h = horizontal ? 4 : len;
  const x = m.side === 'l' ? cx : m.side === 'r' ? cx - len : cx - 2.3;
  const y = m.side === 'b' ? cy - len : m.side === 't' ? cy : cy - 2;
  return <rect x={x} y={y} width={w} height={h} rx={1.2} fill="#000" />;
};

const BottomLabel = (props: any) => {
  const { x, y, payload } = props;
  if (!xLabelTicks.includes(payload.value)) return <g />;
  return (
    <text x={x} y={y + 20} textAnchor="middle" fontSize={18} fontWeight="bold" fontFamily={FONT} fill="#000">
      {payload.value}
    </text>
  );
};
const LeftLabel = (props: any) => {
  const { x, y, payload } = props;
  const label = yLabels[String(payload.value)];
  if (!label) return <g />;
  return (
    <text x={x - 6} y={y} dy="0.36em" textAnchor="end" fontSize={18} fontWeight="bold" fontFamily={FONT} fill="#000">
      {label}
    </text>
  );
};

const CHART_W = 535;
const CHART_H = 442;
const CHART_MARGIN = { top: 14, right: 6.5, bottom: 26.2, left: 0 };
const Y_AXIS_WIDTH = 80.5;
const X_AXIS_HEIGHT = 30;

const App = () => {
  const plotLeft = CHART_MARGIN.left + Y_AXIS_WIDTH;
  const plotTop = CHART_MARGIN.top;
  const plotW = CHART_W - plotLeft - CHART_MARGIN.right;
  const plotH = CHART_H - plotTop - CHART_MARGIN.bottom - X_AXIS_HEIGHT;
  const fitLine = { stroke: RED, strokeWidth: 2.2 };
  return (
    <div style={{ position: 'absolute', left: 0, top: 0, width: CHART_W, height: CHART_H, background: '#fff' }}>
      <ScatterChart width={CHART_W} height={CHART_H} margin={CHART_MARGIN}>
        <XAxis
          xAxisId="bottom"
          dataKey="x"
          type="number"
          domain={X_DOMAIN}
          allowDataOverflow
          ticks={xTicks}
          interval={0}
          height={X_AXIS_HEIGHT}
          tickSize={0}
          tickMargin={0}
          tickLine={false}
          axisLine={false}
          tick={<BottomLabel />}
        />
        <YAxis
          yAxisId="left"
          dataKey="y"
          type="number"
          scale="log"
          domain={Y_DOMAIN}
          allowDataOverflow
          ticks={Y_TICKS}
          interval={0}
          width={Y_AXIS_WIDTH}
          tickSize={0}
          tickMargin={0}
          tickLine={false}
          axisLine={false}
          tick={<LeftLabel />}
        />
        <Scatter name={seriesNames[2]} data={pink710} xAxisId="bottom" yAxisId="left" shape={Square} isAnimationActive={false} />
        <Scatter name={seriesNames[1]} data={blue680} xAxisId="bottom" yAxisId="left" shape={Dash} isAnimationActive={false} />
        <Scatter name={seriesNames[0]} data={black660} xAxisId="bottom" yAxisId="left" shape={Cross} isAnimationActive={false} />
        <Scatter data={toPts(fit710)} xAxisId="bottom" yAxisId="left" line={fitLine} lineType="joint" shape={NoDot} isAnimationActive={false} />
        <Scatter data={toPts(fit680)} xAxisId="bottom" yAxisId="left" line={fitLine} lineType="joint" shape={NoDot} isAnimationActive={false} />
        <Scatter data={toPts(fit660)} xAxisId="bottom" yAxisId="left" line={fitLine} lineType="joint" shape={NoDot} isAnimationActive={false} />
        {frameMarks.map((m, i) => (
          <ReferenceDot
            key={`mark-${i}`}
            x={m.x}
            y={m.y}
            xAxisId="bottom"
            yAxisId="left"
            r={1}
            ifOverflow="visible"
            shape={markShape(m)}
          />
        ))}
      </ScatterChart>
      <svg width={CHART_W} height={CHART_H} style={{ position: 'absolute', left: 0, top: 0, pointerEvents: 'none' }}>
        <rect x={plotLeft} y={plotTop} width={plotW} height={plotH} fill="none" stroke="#000" strokeWidth={4.4} />
        <text x={321} y={433} textAnchor="middle" fontSize={27} fontWeight="bold" fontFamily={FONT} fill="#000">
          Time (μs)
        </text>
        <text
          transform="translate(39,216) rotate(-90)"
          textAnchor="middle"
          fontSize={26}
          fontWeight="bold"
          fontFamily={FONT}
          fill="#000"
        >
          Normalized Δ OD
        </text>
        <path d="M393.6 56.6L398.4 61.4M393.6 61.4L398.4 56.6" stroke="#111" strokeWidth={1.4} />
        <text x={430} y={65} fontSize={21} fontWeight="bold" fontFamily={FONT} fill="#000">{seriesNames[0]}</text>
        <rect x={393.6} y={87.9} width={4.8} height={2.2} fill={BLUE} />
        <text x={430} y={94} fontSize={21} fontWeight="bold" fontFamily={FONT} fill="#000">{seriesNames[1]}</text>
        <rect x={393.9} y={114.9} width={4.2} height={4.2} fill={PINK} />
        <text x={430} y={123} fontSize={21} fontWeight="bold" fontFamily={FONT} fill="#000">{seriesNames[2]}</text>
      </svg>
    </div>
  );
};

export default App;
